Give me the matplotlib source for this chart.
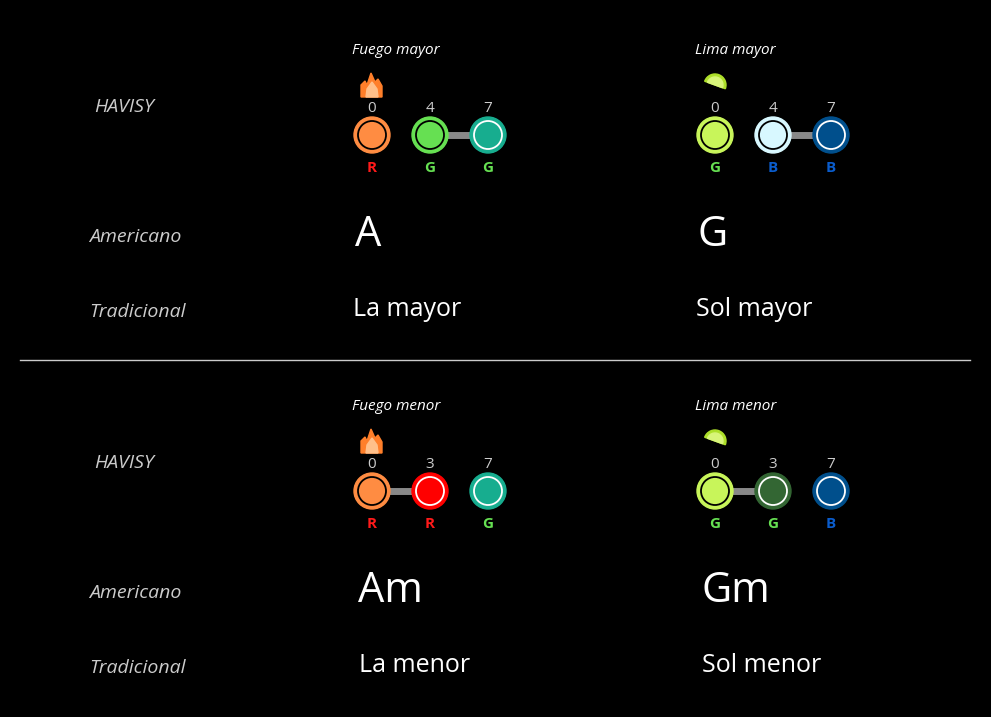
import matplotlib
matplotlib.use("Agg")
import matplotlib.pyplot as plt
from matplotlib.patches import Circle, Polygon, Wedge

# Data
chord_titles = ["Fuego mayor", "Lima mayor", "Fuego menor", "Lima menor"]
intervals = [[0, 4, 7], [0, 4, 7], [0, 3, 7], [0, 3, 7]]
fills = [["#ff8c42", "#66e052", "#17ad8f"],
         ["#c8f55a", "#d8f8ff", "#004f8c"],
         ["#ff8c42", "#ff0000", "#17ad8f"],
         ["#c8f55a", "#336633", "#004f8c"]]
ring_dark = [[True, True, False], [True, True, False],
             [True, False, False], [True, False, False]]
letters = [["R", "G", "G"], ["G", "B", "B"], ["R", "R", "G"], ["G", "G", "B"]]
links = [(1, 2), (1, 2), (0, 1), (0, 1)]
icons = ["fire", "lime", "fire", "lime"]
american = ["A", "G", "Am", "Gm"]
traditional = ["La mayor", "Sol mayor", "La menor", "Sol menor"]
row_labels = ["HAVISY", "Americano", "Tradicional"]
letter_colors = {"R": "#ff1a1a", "G": "#66e052", "B": "#0a5ccc"}

fig = plt.figure(figsize=(9.91, 7.17), dpi=100, facecolor="black")
ax = fig.add_axes([0, 0, 1, 1])
ax.set_xlim(0, 991); ax.set_ylim(717, 0); ax.axis("off")
ax.set_facecolor("black")
FONT = "Open Sans"

ax.plot([20, 970], [360, 360], color="#cccccc", lw=1)

block_y = [0, 356]
col_x = [372, 715]
for b, by in enumerate(block_y):
    ax.text(94, by + 107, row_labels[0], color="#cccccc", style="italic", fontsize=14, family=FONT, va="center")
    ax.text(89, by + 237, row_labels[1], color="#cccccc", style="italic", fontsize=14, family=FONT, va="center")
    ax.text(89, by + 312, row_labels[2], color="#cccccc", style="italic", fontsize=14, family=FONT, va="center")

for k in range(4):
    b, c = divmod(k, 2)
    by = block_y[b]; x0 = col_x[c]
    cy = by + 135
    ax.text(x0 - 20, by + 51, chord_titles[k], color="white", style="italic", fontsize=11, family=FONT, va="center")
    xs = [x0 + 58 * i for i in range(3)]
    i, j = links[k]
    ax.plot([xs[i], xs[j]], [cy, cy], color="#888888", lw=5, zorder=1)
    for n in range(3):
        ax.add_patch(Circle((xs[n], cy), 18, color=fills[k][n], zorder=2))
        ax.add_patch(Circle((xs[n], cy), 14, fill=False, lw=1.3,
                            ec="black" if ring_dark[k][n] else "white", zorder=3))
        ax.text(xs[n], cy - 26, str(intervals[k][n]), color="#cccccc", fontsize=11,
                family=FONT, ha="center", va="center")
        ax.text(xs[n], cy + 33, letters[k][n], color=letter_colors[letters[k][n]],
                fontsize=11, fontweight="bold", family=FONT, ha="center", va="center")
    iy = by + 87
    if icons[k] == "fire":
        ax.add_patch(Polygon([(x0 - 11, iy + 10), (x0 - 11, iy - 2), (x0 - 7, iy - 6), (x0 - 5, iy - 2),
                              (x0 - 1, iy - 14), (x0 + 3, iy - 5), (x0 + 6, iy - 8), (x0 + 10, iy - 1),
                              (x0 + 10, iy + 10)], closed=True, color="#ff7f2a", zorder=2))
        ax.add_patch(Polygon([(x0 - 6, iy + 10), (x0 - 5, iy + 2), (x0, iy - 5), (x0 + 5, iy + 2),
                              (x0 + 6, iy + 10)], closed=True, color="#ffc08a", zorder=3))
    else:
        ax.add_patch(Wedge((x0, iy - 2), 11, 200, 20, color="#aee02a", zorder=2))
        ax.add_patch(Wedge((x0, iy - 2), 8, 200, 20, color="#d8f57a", zorder=3))
    fs = 30 if len(american[k]) > 1 else 30
    ax.text(x0 - 17 + (3 if b else 0), by + 235, american[k], color="white", fontsize=fs,
            family=FONT, va="center")
    ax.text(x0 - 19 + (6 if b else 0), by + 309, traditional[k], color="white", fontsize=18,
            family=FONT, va="center")

fig.savefig("out.png", dpi=100, facecolor="black")
